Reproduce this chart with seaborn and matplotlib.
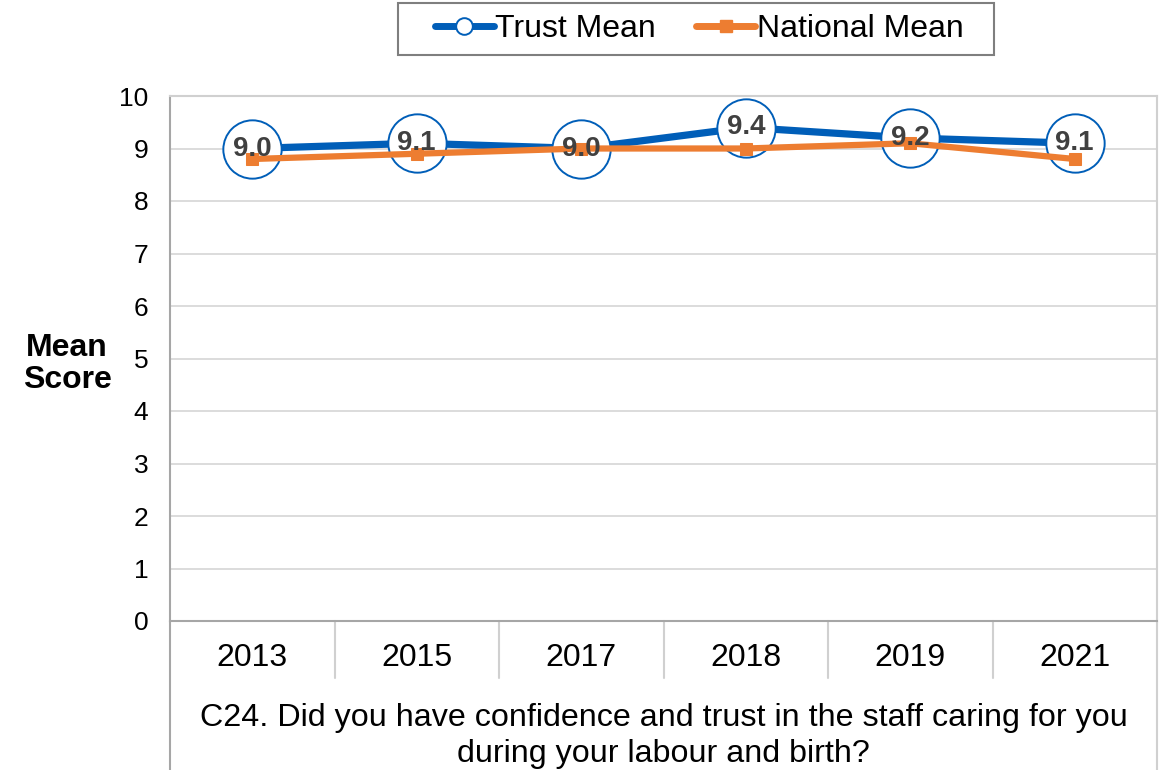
import matplotlib
matplotlib.use("Agg")
import matplotlib.pyplot as plt
from matplotlib.lines import Line2D
from matplotlib.patches import Rectangle
import seaborn as sns
import numpy as np

# Survey results by year
years = ["2013", "2015", "2017", "2018", "2019", "2021"]
trust_mean = [9.0, 9.1, 9.0, 9.4, 9.2, 9.1]
national_mean = [8.8, 8.9, 9.0, 9.0, 9.1, 8.8]
question = "C24. Did you have confidence and trust in the staff caring for you\nduring your labour and birth?"

BLUE = "#005EB8"
ORANGE = "#ED7D31"
GRID = "#D9D9D9"
FRAME = "#A6A6A6"

sns.set_theme(style="white")
plt.rcParams["font.family"] = ["Liberation Sans", "DejaVu Sans"]
plt.rcParams["text.color"] = "black"

W, H = 1163, 770
fig = plt.figure(figsize=(W / 100, H / 100), dpi=100)
ax = fig.add_axes([170 / W, 1 - 621 / H, (1157 - 170) / W, (621 - 96) / H])

pos = np.arange(len(years))

sns.lineplot(x=pos, y=trust_mean, ax=ax, color=BLUE, lw=5.2, marker="o",
             markersize=42, markerfacecolor="white", markeredgecolor=BLUE,
             markeredgewidth=1.4, zorder=3, legend=False)
sns.lineplot(x=pos, y=national_mean, ax=ax, color=ORANGE, lw=4.5, marker="s",
             markersize=8, markerfacecolor=ORANGE, markeredgecolor=ORANGE,
             zorder=4, legend=False)

for x, v in zip(pos, trust_mean):
    ax.text(x, v, f"{v:.1f}", ha="center", va="center", fontsize=20,
            fontweight="bold", color="#404040", zorder=5)

ax.set_xlim(-0.5, len(years) - 0.5)
ax.set_ylim(0, 10)
ax.set_yticks(range(0, 11))
ax.set_xticks([])
ax.tick_params(axis="y", length=0, pad=15.5, labelsize=19, labelcolor="black")
ax.yaxis.grid(True, color=GRID, lw=1.3)
ax.set_axisbelow(True)
for side in ["top", "right"]:
    ax.spines[side].set_color("#D0D0D0")
    ax.spines[side].set_linewidth(1.5)
for side in ["left", "bottom"]:
    ax.spines[side].set_color(FRAME)
    ax.spines[side].set_linewidth(1.5)

ax.set_ylabel("Mean\nScore", rotation=0, fontsize=23, fontweight="bold",
              color="black", linespacing=1.05, labelpad=0)
ax.yaxis.label.set_va("center")
ax.yaxis.label.set_ha("center")
ax.yaxis.set_label_coords((67 - 170) / 987, (621 - 364) / 525)

# Category table under the axis
trans = ax.get_xaxis_transform()
row_bottom = (621 - 678) / 525
table_bottom = (621 - 772) / 525
for k in range(1, len(years)):
    ax.add_line(Line2D([k - 0.5, k - 0.5], [0, row_bottom], transform=trans,
                       color="#D0D0D0", lw=1.5, clip_on=False))
for xe, col in [(-0.5, FRAME), (len(years) - 0.5, "#D0D0D0")]:
    ax.add_line(Line2D([xe, xe], [0, table_bottom], transform=trans,
                       color=col, lw=1.5, clip_on=False))
for x, lab in zip(pos, years):
    ax.text(x, (621 - 658) / 525, lab, transform=trans, ha="center",
            va="center", fontsize=23, color="black")
ax.text((len(years) - 1) / 2, (621 - 736) / 525, question, transform=trans,
        ha="center", va="center", fontsize=23.2, color="black", linespacing=1.25)

# Legend with a wide rectangular frame
handles = [
    Line2D([], [], color=BLUE, lw=5, marker="o", markersize=12,
           markerfacecolor="white", markeredgecolor=BLUE, markeredgewidth=1.4),
    Line2D([], [], color=ORANGE, lw=5, marker="s", markersize=9,
           markerfacecolor=ORANGE, markeredgecolor=ORANGE),
]
fig.legend(handles, ["Trust Mean", "National Mean"], loc="center",
           bbox_to_anchor=(699 / W, 1 - 29 / H), ncol=2,
           fontsize=23, frameon=False, labelcolor="black",
           handlelength=1.85, handletextpad=0.05, columnspacing=1.25,
           borderpad=0.3, borderaxespad=0)
fig.patches.append(Rectangle((398 / W, 1 - 55 / H), (994 - 398) / W, 52 / H,
                             transform=fig.transFigure, fill=False,
                             edgecolor="#7F7F7F", lw=1.5))

fig.savefig("out.png", dpi=100, facecolor="white")
